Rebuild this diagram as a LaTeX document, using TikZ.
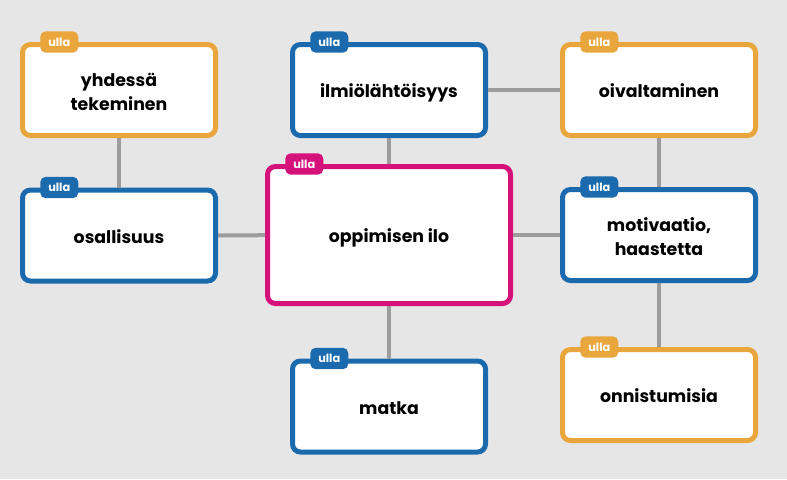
\documentclass[tikz,border=0pt]{standalone}
\usepackage{fontspec}
\setmainfont{Poppins}
\definecolor{ulorange}{HTML}{E9A63C}
\definecolor{ulblue}{HTML}{1A6AAD}
\definecolor{ulpink}{HTML}{D5127A}
\definecolor{ulgrey}{HTML}{9C9C9C}
\definecolor{ulbg}{HTML}{E6E6E6}

\begin{document}
\begin{tikzpicture}[x=0.75pt,y=-0.75pt,
 box/.style={rectangle,draw,fill=white,line width=3.75pt,rounded corners=6pt,
   minimum width=144.75pt,minimum height=68.25pt,align=center,
   text height=11.5pt,text depth=0pt,
   font=\bfseries\fontsize{13}{18}\selectfont},
 two lines/.style={text height=31pt,text depth=0pt},
 big box/.style={box,minimum width=182.25pt,minimum height=102.75pt},
 tab/.style={rectangle,rounded corners=4pt,minimum width=28.5pt,minimum height=16pt,
   inner sep=0pt,text=white,font=\bfseries\fontsize{8.5}{10}\selectfont}]

  \fill[ulbg] (0,0) rectangle (787,479);
  \useasboundingbox (0,0) rectangle (787,479);

  \node[box,two lines,draw=ulorange] (yh) at (119,90) {yhdessä\\tekeminen};
  \node[box,draw=ulblue] (os) at (119,235.5) {osallisuus};
  \node[box,draw=ulblue] (il) at (389,90) {ilmiölähtöisyys};
  \node[big box,draw=ulpink] (op) at (389,235) {oppimisen ilo};
  \node[box,draw=ulblue] (ma) at (389,406.5) {matka};
  \node[box,draw=ulorange] (oi) at (659,90) {oivaltaminen};
  \node[box,two lines,draw=ulblue] (mo) at (659,235) {motivaatio,\\haastetta};
  \node[box,draw=ulorange] (on) at (659,395) {onnistumisia};

  % ulla tabs
  \foreach \n/\c in {yh/ulorange, os/ulblue, il/ulblue, op/ulpink, ma/ulblue, oi/ulorange, mo/ulblue, on/ulorange} {
   \node[tab,fill=\c,anchor=west] (\n t) at ([xshift=15pt]\n.north west) {ulla};}

  \foreach \s/\t in {yh/os, os/op, il/op, il/oi, oi/mo, op/mo, mo/on, op/ma} {
   \draw[ulgrey,line width=3pt] (\s) -- (\t);}
\end{tikzpicture}
\end{document}
